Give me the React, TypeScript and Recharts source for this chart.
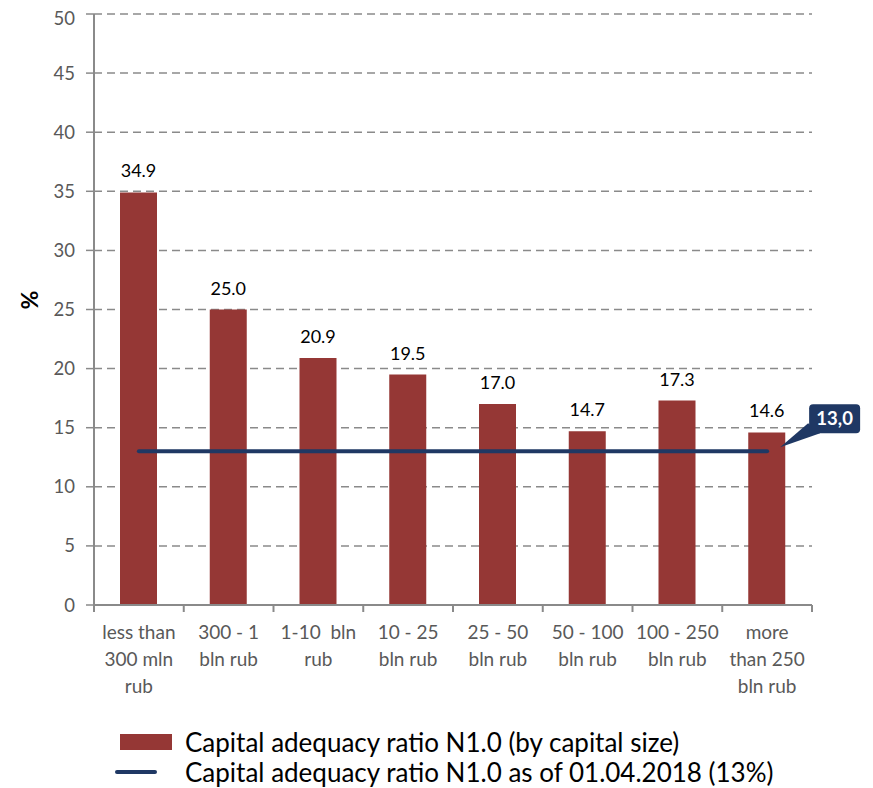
import { ComposedChart, Bar, Line, XAxis, YAxis, CartesianGrid, LabelList } from "recharts";

const categories = [
  "less than|300 mln|rub",
  "300 - 1|bln rub",
  "1-10  bln|rub",
  "10 - 25|bln rub",
  "25 - 50|bln rub",
  "50 - 100|bln rub",
  "100 - 250|bln rub",
  "more|than 250|bln rub",
];
const ratios = [34.9, 25.0, 20.9, 19.5, 17.0, 14.7, 17.3, 14.6];
const norm = [13, 13, 13, 13, 13, 13, 13, 13];
const yTicks = [0, 5, 10, 15, 20, 25, 30, 35, 40, 45, 50];

const data = categories.map((c, i) => ({ name: c, ratio: ratios[i], norm: norm[i] }));

const FONT = "Lato, 'Open Sans', sans-serif";
const BAR = "#953735";
const NAVY = "#1F3864";
const AXIS = "#8a8a8a";

const BAND = 718 / 8;

function CatTick(props: any) {
  const { x, y, payload, index } = props;
  const lines = String(payload.value).split("|");
  return (
    <g>
      <line x1={x - BAND / 2} x2={x - BAND / 2} y1={y - 8} y2={y - 1} stroke={AXIS} strokeWidth={2} />
      {index === categories.length - 1 && (
        <line x1={x + BAND / 2} x2={x + BAND / 2} y1={y - 8} y2={y - 1} stroke={AXIS} strokeWidth={2} />
      )}
      <text x={x} y={y + 26} textAnchor="middle" fontSize={19} fill="#595959" fontFamily={FONT}>
        {lines.map((l, i) => (
          <tspan key={i} x={x} dy={i === 0 ? 0 : 27} style={{ whiteSpace: "pre" }}>
            {l}
          </tspan>
        ))}
      </text>
    </g>
  );
}

function Callout(props: any) {
  const { x, y, index } = props;
  if (index !== norm.length - 1) return null;
  const bx = x + 42;
  const by = y - 47;
  return (
    <g>
      <polygon points={`${bx - 1},${by + 19} ${x + 13},${y - 4} ${bx + 11},${by + 29}`} fill={NAVY} />
      <rect x={bx} y={by} width={51} height={29} rx={4} fill={NAVY} />
      <text x={bx + 25.5} y={by + 21} textAnchor="middle" fontSize={18.5} fontWeight="bold" fill="#fff" fontFamily={FONT}>
        {norm[index].toFixed(1).replace(".", ",")}
      </text>
    </g>
  );
}

export default function App() {
  return (
    <div style={{ position: "relative", width: 865, height: 780, fontFamily: FONT }}>
      <ComposedChart width={865} height={694} data={data} margin={{ top: 6, right: 61, bottom: 3, left: 0 }}>
        <CartesianGrid vertical={false} stroke={AXIS} strokeWidth={1.5} strokeDasharray="8 5" />
        <XAxis
          dataKey="name"
          interval={0}
          height={94}
          tickLine={false}
          axisLine={{ stroke: AXIS, strokeWidth: 2 }}
          tick={<CatTick />}
        />
        <YAxis
          domain={[0, 50]}
          ticks={yTicks}
          width={86}
          tickSize={8}
          tickMargin={11}
          tickLine={{ stroke: AXIS, strokeWidth: 1.5 }}
          axisLine={{ stroke: AXIS, strokeWidth: 2 }}
          tick={{ fontSize: 18.5, fill: "#595959", fontFamily: FONT }}
          label={{ value: "%", angle: -90, position: "insideLeft", offset: 22, fontSize: 23, fontWeight: "bold", fill: "#000", fontFamily: FONT }}
        />
        <Bar dataKey="ratio" fill={BAR} barSize={37} isAnimationActive={false}>
          <LabelList dataKey="ratio" position="top" offset={15} fontSize={18} fill="#000" fontFamily={FONT} formatter={(v: any) => Number(v).toFixed(1)} />
        </Bar>
        <Line
          dataKey="norm"
          stroke={NAVY}
          strokeWidth={4}
          strokeLinecap="round"
          dot={false}
          activeDot={false}
          isAnimationActive={false}
          label={<Callout />}
        />
      </ComposedChart>
      <div style={{ position: "absolute", left: 107, top: 719, fontSize: 26, color: "#000", lineHeight: "30px" }}>
        <div style={{ display: "flex", alignItems: "center" }}>
          <span style={{ display: "inline-block", width: 52, height: 16, background: BAR, marginLeft: 5, marginRight: 13 }} />
          Capital adequacy ratio N1.0 (by capital size)
        </div>
        <div style={{ display: "flex", alignItems: "center" }}>
          <span style={{ display: "inline-block", width: 42, height: 4, borderRadius: 2, background: NAVY, marginLeft: 0, marginRight: 28 }} />
          Capital adequacy ratio N1.0 as of 01.04.2018 (13%)
        </div>
      </div>
    </div>
  );
}
